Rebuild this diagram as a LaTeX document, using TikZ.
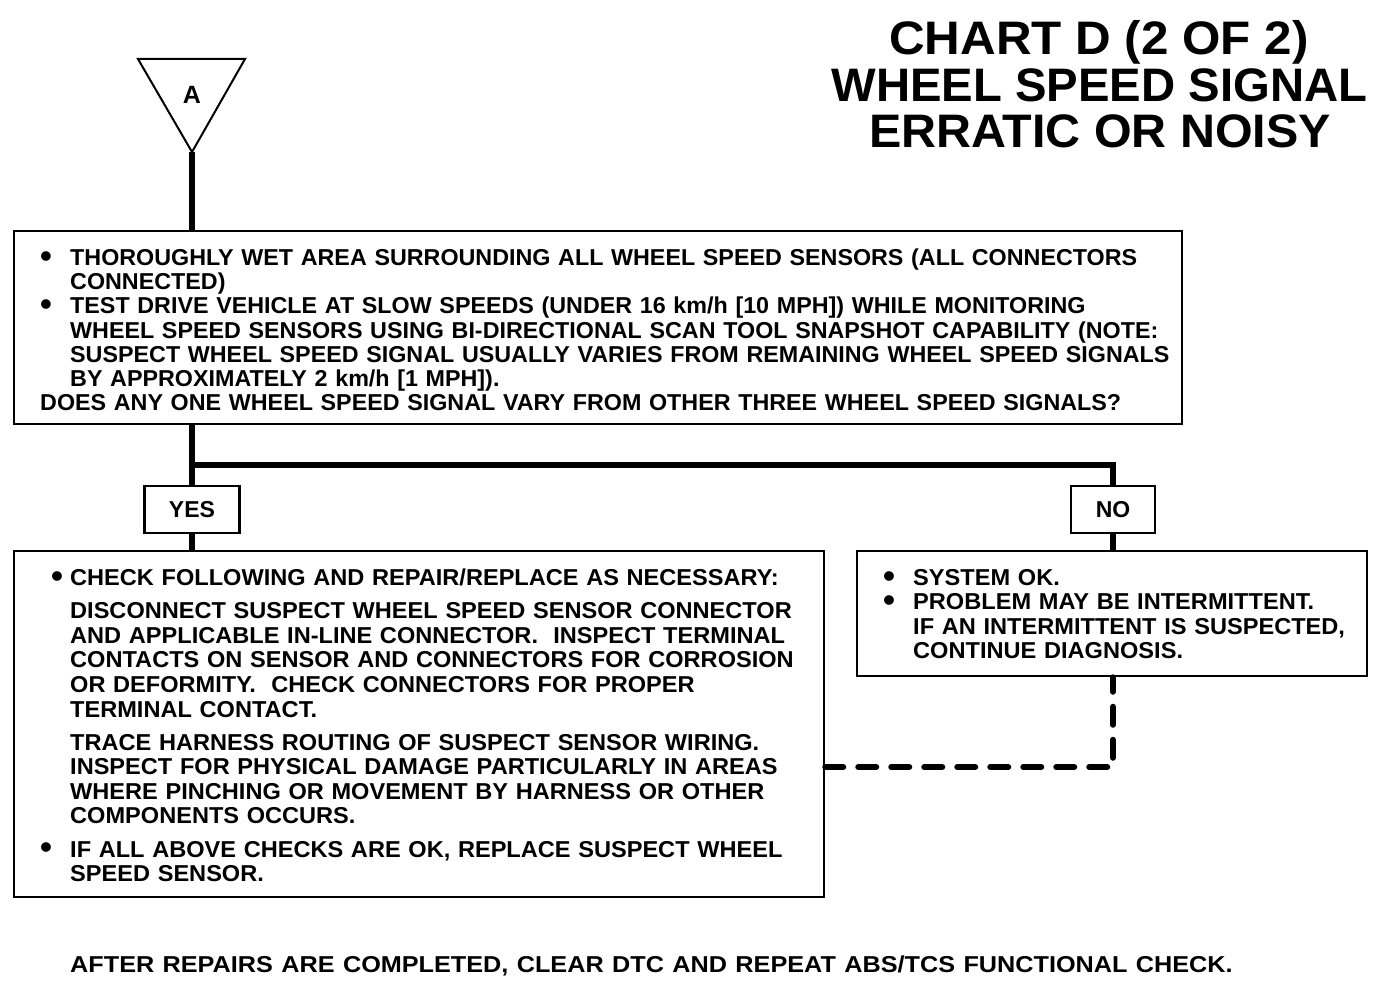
\documentclass[tikz,border=0pt]{standalone}
\usepackage{fontspec}
\setmainfont{Liberation Sans}
\newfontfamily\mainfnt{Liberation Sans}[FakeStretch=1.013]
\newfontfamily\leftfnt{Liberation Sans}[FakeStretch=1.025]
\newfontfamily\rightfnt{Liberation Sans}[FakeStretch=1.026]
\newcommand{\mybul}{\raisebox{-1.5pt}[0pt][0pt]{\scalebox{1.45}{\textbullet}}}
\newcommand{\bl}{\makebox[30pt][l]{\mybul}}
\newcommand{\ind}{\hspace*{30pt}}
\begin{document}
\begin{tikzpicture}[x=1pt,y=-1pt,
  box/.style={draw, line width=2.5pt, inner sep=0pt},
  conn/.style={line width=6pt},
  dashline/.style={line width=6pt, dash pattern=on 18pt off 15pt, line cap=round},
  txt/.style={anchor=base west, inner sep=0pt, align=left, text width=1150pt,
    font=\mainfnt\bfseries\fontsize{23}{24.2}\selectfont},
  ltxt/.style={txt, text width=780pt, font=\leftfnt\bfseries\fontsize{23}{24.6}\selectfont},
  rtxt/.style={txt, text width=480pt, font=\rightfnt\bfseries\fontsize{23}{24.3}\selectfont},
  ttl/.style={anchor=base, inner sep=0pt, font=\bfseries\fontsize{47}{47}\selectfont},
  lab/.style={box, font=\bfseries\fontsize{23}{24}\selectfont}
]
\useasboundingbox (0,0) rectangle (1392,990);

% title
\node[ttl] (t1) at (1099,55) {\scalebox{1.05}[1]{CHART D (2 OF 2)}};
\node[ttl] (t2) at (1099.5,101) {\scalebox{1.006}[1]{WHEEL SPEED SIGNAL}};
\node[ttl] (t3) at (1100,147) {\scalebox{1.03}[1]{ERRATIC OR NOISY}};

% entry triangle
\coordinate (apex) at (192,152);
\draw[line width=2pt, line join=miter] (138,59) -- (245,59) -- (apex) -- cycle;
\node[inner sep=0pt, font=\bfseries\fontsize{25}{25}\selectfont] (A) at (192,95) {A};

% boxes
\node[box, minimum width=1168pt, minimum height=193pt] (main) at (598,327.5) {};
\node[lab, minimum width=95pt, minimum height=47pt] (yes) at (192,509.5) {YES};
\node[lab, minimum width=84pt, minimum height=47pt] (no) at (1113,509.5) {NO};
\node[box, minimum width=810pt, minimum height=346pt] (left) at (419,724) {};
\node[box, minimum width=510pt, minimum height=125pt] (right) at (1112,613.5) {};

% texts
\node[txt] (maintext) at (40,265.5) {\bl THOROUGHLY WET AREA SURROUNDING ALL WHEEL SPEED SENSORS (ALL CONNECTORS\\
\ind CONNECTED)\\
\bl TEST DRIVE VEHICLE AT SLOW SPEEDS (UNDER 16 km/h [10 MPH]) WHILE MONITORING\\
\ind WHEEL SPEED SENSORS USING BI-DIRECTIONAL SCAN TOOL SNAPSHOT CAPABILITY (NOTE:\\
\ind SUSPECT WHEEL SPEED SIGNAL USUALLY VARIES FROM REMAINING WHEEL SPEED SIGNALS\\
\ind BY APPROXIMATELY 2 km/h [1 MPH]).\\
DOES ANY ONE WHEEL SPEED SIGNAL VARY FROM OTHER THREE WHEEL SPEED SIGNALS?};

\node[ltxt] (lefttext) at (40,585.5) {\makebox[30pt][r]{\mybul\hspace{7pt}}CHECK FOLLOWING AND REPAIR/REPLACE AS NECESSARY:\\[8.5pt]
\ind DISCONNECT SUSPECT WHEEL SPEED SENSOR CONNECTOR\\
\ind AND APPLICABLE IN-LINE CONNECTOR.\ \ INSPECT TERMINAL\\
\ind CONTACTS ON SENSOR AND CONNECTORS FOR CORROSION\\
\ind OR DEFORMITY.\ \ CHECK CONNECTORS FOR PROPER\\
\ind TERMINAL CONTACT.\\[8.5pt]
\ind TRACE HARNESS ROUTING OF SUSPECT SENSOR WIRING.\\
\ind INSPECT FOR PHYSICAL DAMAGE PARTICULARLY IN AREAS\\
\ind WHERE PINCHING OR MOVEMENT BY HARNESS OR OTHER\\
\ind COMPONENTS OCCURS.\\[8.5pt]
\bl IF ALL ABOVE CHECKS ARE OK, REPLACE SUSPECT WHEEL\\
\ind SPEED SENSOR.};

\node[rtxt] (righttext) at (883,585.5) {\bl SYSTEM OK.\\
\bl PROBLEM MAY BE INTERMITTENT.\\
\ind IF AN INTERMITTENT IS SUSPECTED,\\
\ind CONTINUE DIAGNOSIS.};

\node[txt, font=\bfseries\fontsize{23}{24}\selectfont] (foot) at (70,972.5) {\scalebox{1.097}[1]{AFTER REPAIRS ARE COMPLETED, CLEAR DTC AND REPEAT ABS/TCS FUNCTIONAL CHECK.}};

% connectors
\coordinate (split) at (192,465);
\draw[conn] (apex) -- (apex |- main.north);
\draw[conn] (main.south -| yes) -- (yes.north);
\draw[conn] (split) -| (no.north);
\draw[conn] (yes.south) -- (yes.south |- left.north);
\draw[conn] (no.south) -- (no.south |- right.north);
\coordinate (dcorner) at (1113,767);
\draw[dashline] (dcorner -| left.east) -- (dcorner) -- (right.south -| dcorner);
\end{tikzpicture}
\end{document}
